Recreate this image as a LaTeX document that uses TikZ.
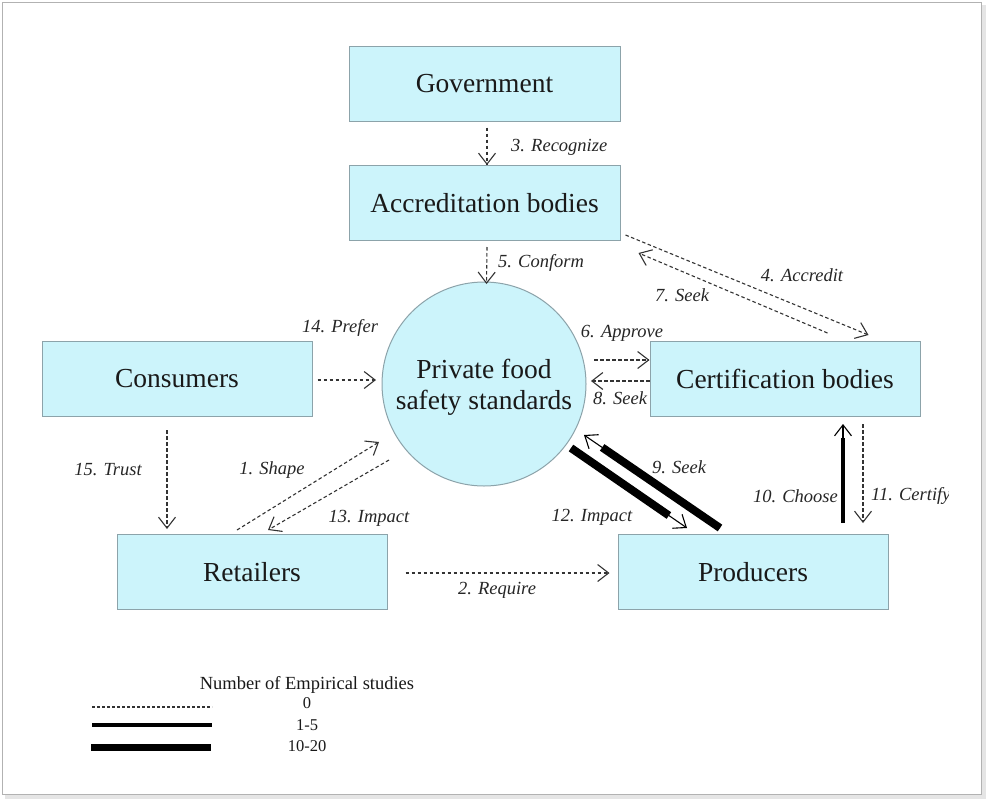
\documentclass[tikz,border=0pt]{standalone}
\usepackage{fontspec}
\setmainfont{Liberation Serif}
\usetikzlibrary{arrows.meta,shapes.geometric}
\definecolor{boxfill}{HTML}{CCF4FB}
\definecolor{boxline}{HTML}{8CA3AA}
\definecolor{lnk}{HTML}{333333}
\begin{document}
\begin{tikzpicture}[x=1pt,y=-1pt,
  box/.style={draw=boxline, fill=boxfill, line width=1pt, minimum width=271pt, minimum height=75pt, inner sep=0pt, font=\fontsize{27.5}{31}\selectfont, text=black!90},
  lab/.style={font=\fontsize{18.5}{20}\selectfont\itshape, text=black!85, inner sep=0pt},
  leg/.style={font=\fontsize{16.5}{18}\selectfont, text=black!90, inner sep=0pt},
  tipv/.style={-{Straight Barb[length=11pt 0,width=17pt 0,line width=1.1pt 0]}},
  dsh/.style={tipv, draw=lnk, line width=1.1pt, dash pattern=on 3.5pt off 2.5pt},
  sol/.style={tipv, draw=black, line width=1.1pt},
  thk/.style={draw=black, line width=8pt},
  mid/.style={draw=black, line width=4pt}
]
\useasboundingbox (0,0) rectangle (988,801);
% frame
\fill[gray!20] (5,5) rectangle (986,799);
\draw[gray!60, fill=white, line width=1pt] (2.5,2.5) rectangle (981,794);

% nodes
\node[box] (gov) at (484.5,83.5) {Government};
\node[box] (acc) at (484.5,203) {Accreditation bodies};
\node[box, minimum width=270pt] (cons) at (177,379) {Consumers};
\node[box, minimum width=270pt] (cert) at (785,379) {Certification bodies};
\node[box, minimum width=270pt] (ret) at (252,572) {Retailers};
\node[box, minimum width=270pt] (prod) at (753,572) {Producers};
\node[circle, draw=boxline, fill=boxfill, line width=1pt, minimum size=204pt, inner sep=0pt] (circ) at (484,384) {};
\node[align=center, inner sep=0pt, font=\fontsize{27.5}{31}\selectfont, text=black!90] (circtext) at ([shift={(0,3)}]circ.center) {Private food\\safety standards};

% 3 Recognize
\draw[dsh] ([shift={(2.5,6)}]gov.south) -- ([xshift=2.5pt]acc.north);
\node[lab, anchor=west] (l3) at (511,147) {3. Recognize};
% 5 Conform
\draw[dsh] ([shift={(2.5,6)}]acc.south) -- ([shift={(2.5,2.5)}]circ.north);
\node[lab, anchor=west] (l5) at (498,263) {5. Conform};
% 4 Accredit
\draw[dsh] ([shift={(5,-6)}]acc.south east) -- ([shift={(-52,-6)}]cert.north east);
\node[lab] (l4) at (802,275) {4. Accredit};
% 7 Seek
\draw[dsh] ([shift={(-93,-8)}]cert.north east) -- ([shift={(18,12)}]acc.south east);
\node[lab] (l7) at (682,295) {7. Seek};
% 6 Approve
\draw[dsh] ([shift={(7.5,-24)}]circ.east) -- ([shift={(0,-19)}]cert.west);
\node[lab] (l6) at (622,333) {6. Approve};
% 8 Seek
\draw[dsh] ([shift={(0,2)}]cert.west) -- ([shift={(4.5,-3)}]circ.east);
\node[lab] (l8) at (620,398) {8. Seek};
% 14 Prefer
\draw[dsh] ([shift={(5,1)}]cons.east) -- ([shift={(-5.5,-4)}]circ.west);
\node[lab] (l14) at (340,328) {14. Prefer};
% 15 Trust
\draw[dsh] ([shift={(-10,13)}]cons.south) -- ([shift={(-85,-5)}]ret.north);
\node[lab] (l15) at (108,470) {15. Trust};
% 1 Shape
\draw[dsh] ([shift={(-15,-4)}]ret.north) -- ([shift={(-2.5,58)}]circ.west);
\node[lab] (l1) at (272,470) {1. Shape};
% 13 Impact
\draw[dsh] ([shift={(7.5,76)}]circ.west) -- ([shift={(16,-4)}]ret.north);
\node[lab] (l13) at (369,518) {13. Impact};
% 2 Require
\draw[dsh] ([shift={(18,1)}]ret.east) -- ([shift={(-8,1)}]prod.west);
\node[lab] (l2) at (497,590) {2. Require};
% 12 Impact (thick)
\draw[sol] ([shift={(-15.5,64)}]circ.east) -- ([shift={(-66,-6)}]prod.north);
\draw[thk, shorten >=22pt] ([shift={(-15.5,64)}]circ.east) -- ([shift={(-66,-6)}]prod.north);
\node[lab] (l12) at (592,517) {12. Impact};
% 9 Seek (thick)
\draw[sol] ([shift={(-33,-6)}]prod.north) -- ([shift={(-2.5,51)}]circ.east);
\draw[thk, shorten >=22pt] ([shift={(-33,-6)}]prod.north) -- ([shift={(-2.5,51)}]circ.east);
\node[lab] (l9) at (679,467) {9. Seek};
% 10 Choose
\draw[sol] ([shift={(90,-11)}]prod.north) -- ([shift={(58,7)}]cert.south);
\draw[mid, shorten >=14pt] ([shift={(90,-11)}]prod.north) -- ([shift={(58,7)}]cert.south);
\node[lab, anchor=east] (l10) at (838,496) {10. Choose};
% 11 Certify
\draw[dsh] ([shift={(78,7)}]cert.south) -- ([shift={(110,-11)}]prod.north);
\begin{scope}
\clip (0,0) rectangle (948,801);
\node[lab, anchor=west] (l11) at (871,496) {11. Certify};
\end{scope}

% legend
\node[leg, font=\fontsize{18.5}{20}\selectfont] (lt) at (307,685) {Number of Empirical studies};
\node[leg] (lz) at (307,703) {0};
\node[leg] (lo) at (307,725) {1-5};
\node[leg] (lw) at (307,746) {10-20};
\coordinate (a0) at (92,707);
\coordinate (b0) at (212,707);
\coordinate (a1) at (92,725);
\coordinate (b1) at (212,725);
\coordinate (a2) at (91,747);
\coordinate (b2) at (211,747);
\draw[lnk, line width=1.1pt, dash pattern=on 3pt off 2pt] (a0) -- (b0);
\draw[black, line width=4pt] (a1) -- (b1);
\draw[black, line width=7pt] (a2) -- (b2);
\end{tikzpicture}
\end{document}
